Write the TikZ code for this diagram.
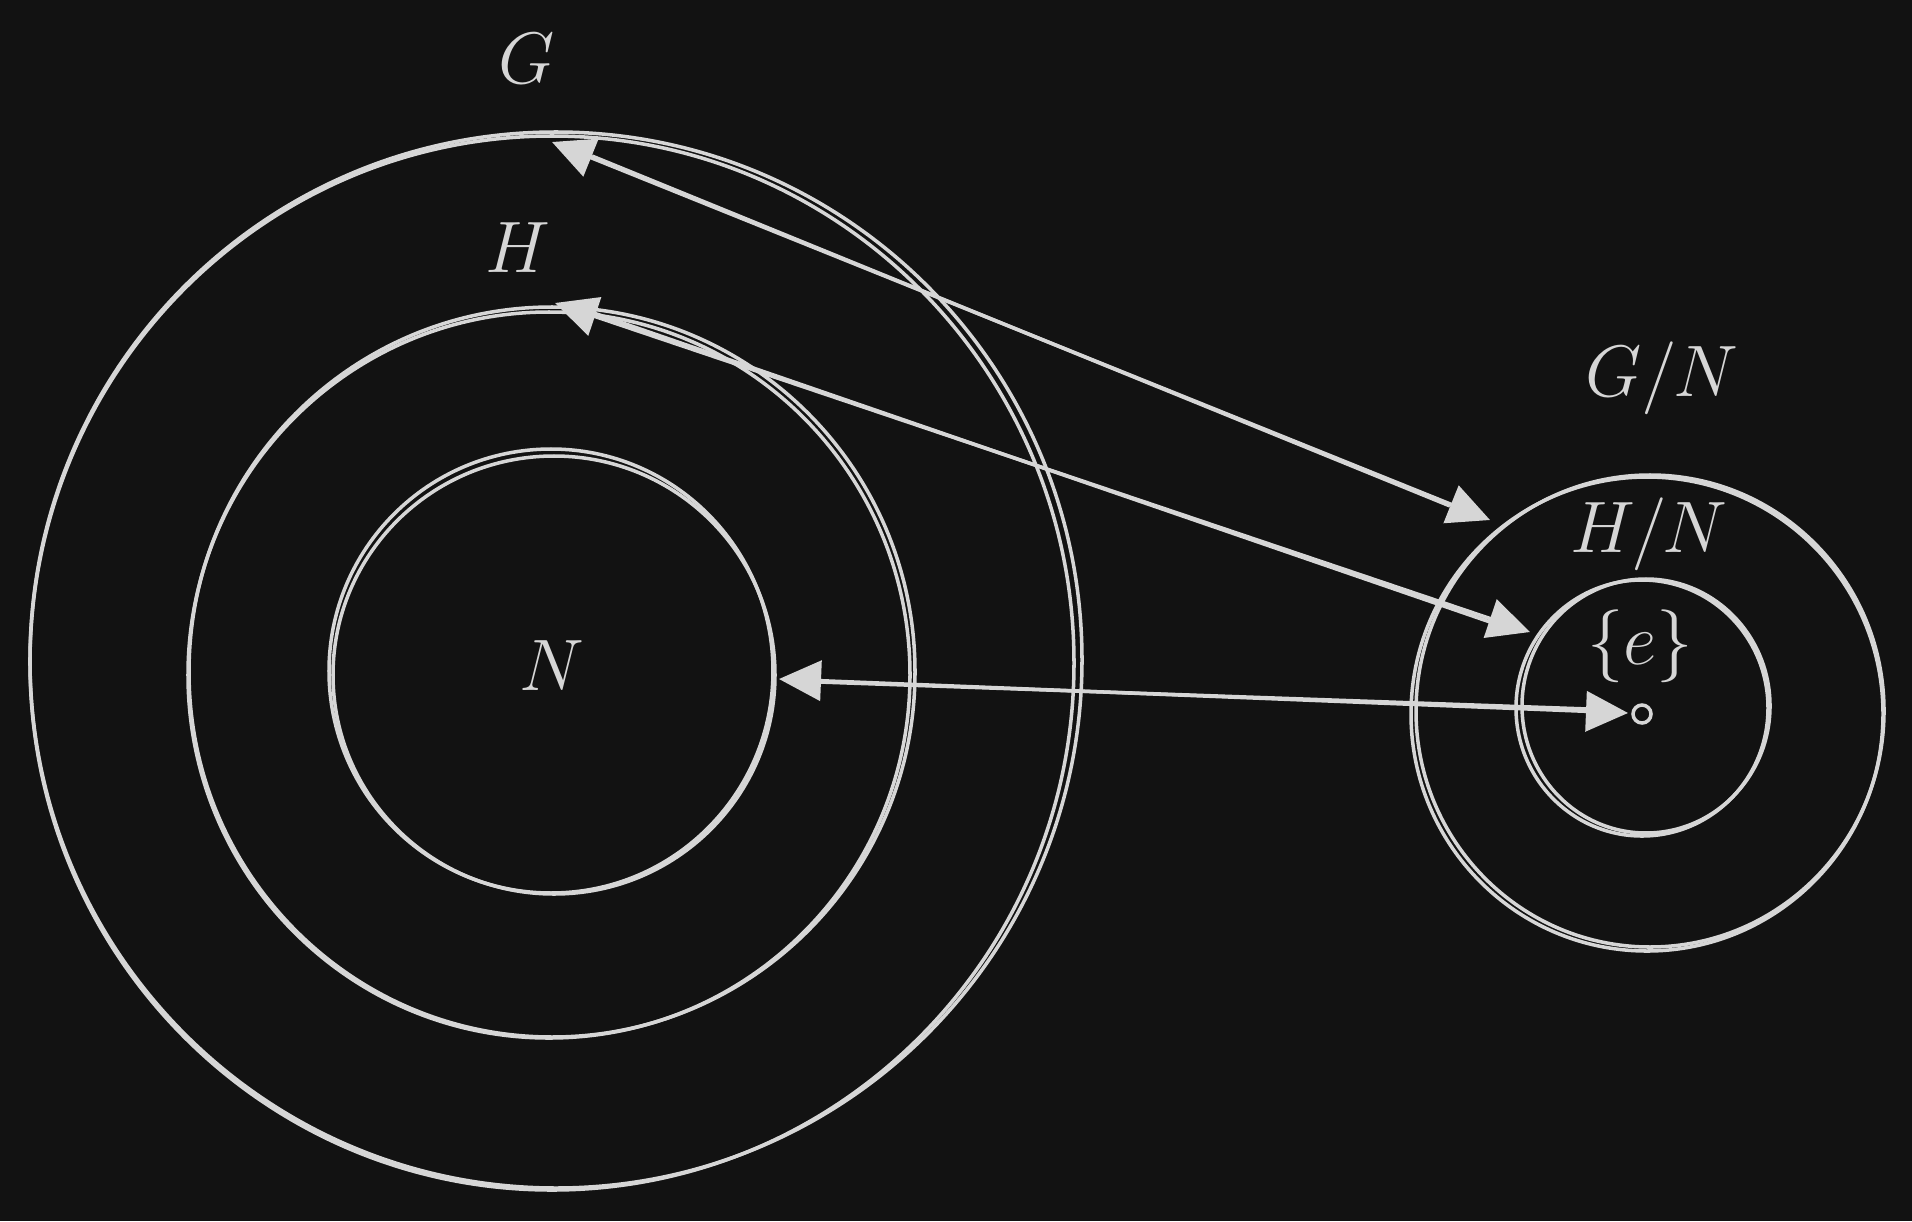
\documentclass[tikz,border=0pt]{standalone}
\usepackage{tikz}
\usetikzlibrary{calc,arrows.meta}

\definecolor{fond}{HTML}{121212}
\definecolor{trait}{HTML}{D6D6D6}

\tikzset{
  trace/.style={draw=trait, line width=1pt},
  lettre/.style={text=trait, font=\fontsize{21.5}{26}\selectfont},
  fleche/.style={trace, {Triangle[length=0.42cm,width=0.4cm]}-{Triangle[length=0.42cm,width=0.4cm]}, shorten <=0pt, shorten >=0pt}
}

\begin{document}
\begin{tikzpicture}[x=0.01cm, y=-0.01cm]
% fond
\fill[fond] (0,0) rectangle (1912,1221);
\useasboundingbox (0,0) rectangle (1912,1221);

% Centres des cercles
\coordinate (cG) at (556,660);
\coordinate (cH) at (552,672);
\coordinate (cN) at (551,671);
\coordinate (cGN) at (1647,714);
\coordinate (cHN) at (1642,708);

% Groupe G, sous-groupe H, noyau N (deux traits, effet croquis)
\draw[trace] (cG) ellipse [x radius=526, y radius=528];
\draw[trace] (cG) ++(-4,3) ellipse [x radius=522, y radius=527];
\draw[trace] (cH) ellipse [x radius=363, y radius=365];
\draw[trace] (cH) ++(-3,3) ellipse [x radius=361, y radius=363];
\draw[trace] (cN) ellipse [x radius=222, y radius=222];
\draw[trace] (cN) ++(3,4) ellipse [x radius=221, y radius=219];

% Quotient G/N et H/N
\draw[trace] (cGN) ellipse [x radius=236, y radius=237];
\draw[trace] (cGN) ++(3,-3) ellipse [x radius=234, y radius=236];
\draw[trace] (cHN) ellipse [x radius=126, y radius=128];
\draw[trace] (cHN) ++(4,-2) ellipse [x radius=124, y radius=127];

% Element neutre
\draw[trace] (1642,714) circle (9);

% Etiquettes
\node[lettre] (G) at (527,59) {$G$};
\node[lettre] (H) at (518,248) {$H$};
\node[lettre] (N) at (552,666) {$N$};
\node[lettre] (GN) at (1662,378) {$G/N$};
\node[lettre] (HN) at (1649,534) {$H/N$};
\node[lettre] (e) at (1640,646) {$\{e\}$};

% Extremites des fleches
\coordinate (aG) at (552,142);
\coordinate (aGN) at (1490,520);
\coordinate (aH) at (555,303);
\coordinate (aHN) at (1530,632);
\coordinate (aN) at (779,679);
\coordinate (ae) at (1628,713);

% Correspondances
\draw[fleche] (aG) -- (aGN);
\draw[trace] ($(aG)+(40,14)$) -- ($(aGN)+(-40,-14)$);
\draw[fleche] (aH) -- (aHN);
\draw[trace] ($(aH)+(30,7)$) -- ($(aHN)+(-40,-10)$);
\draw[fleche] (aN) -- (ae);
\draw[trace] ($(aN)+(40,3)$) -- ($(ae)+(-40,-4)$);

\end{tikzpicture}
\end{document}
